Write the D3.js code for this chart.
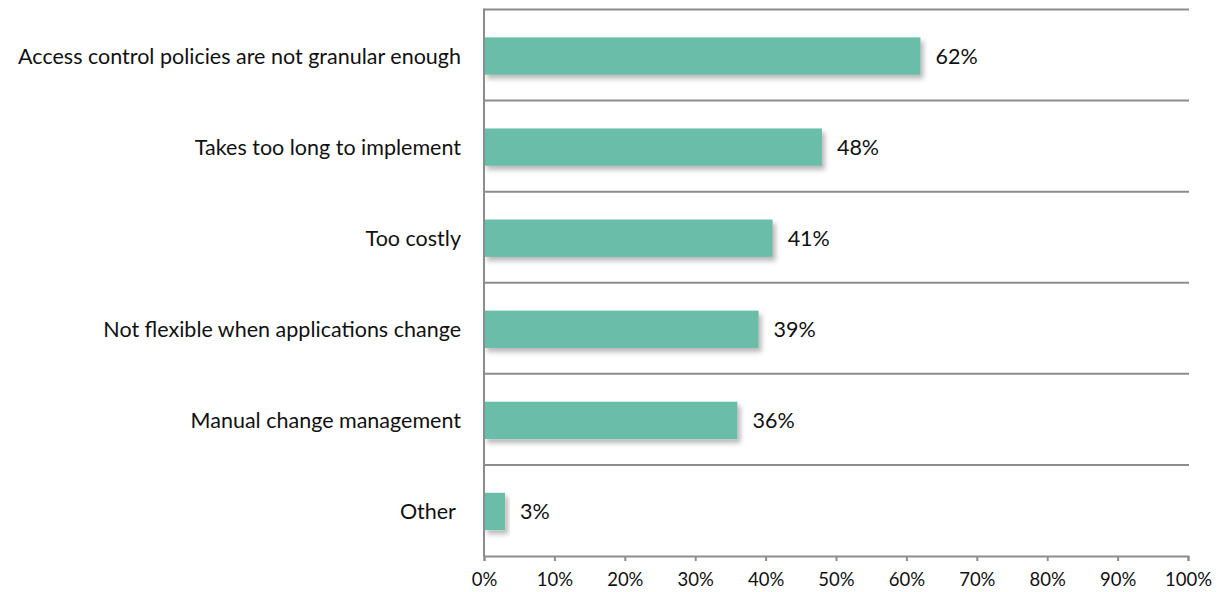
<!DOCTYPE html>
<html>
<head>
<meta charset="utf-8">
<script src="https://cdn.jsdelivr.net/npm/d3@7"></script>
<style>
  html, body { margin: 0; padding: 0; background: #fff; }
  svg text { font-family: Lato, "Open Sans", sans-serif; fill: #111; }
</style>
</head>
<body>
<svg id="chart" width="1230" height="592"></svg>
<script>
// Reasons given, and share of respondents selecting each
const categories = [
  "Access control policies are not granular enough",
  "Takes too long to implement",
  "Too costly",
  "Not flexible when applications change",
  "Manual change management",
  "Other\u00a0"
];
const values = [62, 48, 41, 39, 36, 3];
const tickValues = [0, 10, 20, 30, 40, 50, 60, 70, 80, 90, 100];

const svg = d3.select("#chart");
const plotLeft = 484, plotRight = 1188, plotTop = 9.5, plotBottom = 556;

const x = d3.scaleLinear().domain([0, 100]).range([plotLeft, plotRight]);
const y = d3.scaleBand().domain(categories).range([plotTop, plotBottom]).paddingInner(0).paddingOuter(0);
const barH = y.bandwidth() * 0.41;

// soft shadow under each bar
const defs = svg.append("defs");
const f = defs.append("filter").attr("id", "shadow")
  .attr("x", "-10%").attr("y", "-30%").attr("width", "130%").attr("height", "180%");
f.append("feDropShadow").attr("dx", 3).attr("dy", 4).attr("stdDeviation", 2.5)
  .attr("flood-color", "#000").attr("flood-opacity", 0.28);

// band separators
svg.append("g").selectAll("line")
  .data(categories)
  .join("line")
  .attr("x1", plotLeft).attr("x2", plotRight + 1)
  .attr("y1", d => y(d)).attr("y2", d => y(d))
  .attr("stroke", "#8c8c8c").attr("stroke-width", 2);

// bars
svg.append("g").selectAll("rect")
  .data(values)
  .join("rect")
  .attr("x", plotLeft)
  .attr("y", (d, i) => y(categories[i]) + y.bandwidth() / 2 - barH / 2 + 1)
  .attr("width", d => x(d) - x(0))
  .attr("height", barH)
  .attr("fill", "#6bbda9")
  .attr("filter", "url(#shadow)");

// value labels
svg.append("g").selectAll("text")
  .data(values)
  .join("text")
  .attr("x", d => x(d) + 15)
  .attr("y", (d, i) => y(categories[i]) + y.bandwidth() / 2 + 1)
  .attr("dy", "0.35em")
  .attr("font-size", 21.5)
  .text(d => d + "%");

// category labels
svg.append("g").selectAll("text")
  .data(categories)
  .join("text")
  .attr("x", plotLeft - 23)
  .attr("y", d => y(d) + y.bandwidth() / 2 + 1)
  .attr("dy", "0.35em")
  .attr("text-anchor", "end")
  .attr("font-size", 21.5)
  .style("white-space", "pre")
  .text(d => d);

// bottom axis
const xAxis = d3.axisBottom(x).tickValues(tickValues).tickSize(5).tickSizeOuter(5).tickPadding(12)
  .tickFormat(d => d + "%");
const gx = svg.append("g").attr("transform", `translate(0,${plotBottom})`).call(xAxis);
gx.select(".domain").attr("stroke", "#8c8c8c").attr("stroke-width", 2);
gx.selectAll(".tick line").attr("stroke", "#8c8c8c").attr("stroke-width", 2);
gx.selectAll(".tick text").attr("font-size", 18.5).attr("fill", "#111")
  .attr("font-family", "Lato, 'Open Sans', sans-serif");

// left axis line
svg.append("line")
  .attr("x1", plotLeft).attr("x2", plotLeft)
  .attr("y1", plotTop - 1).attr("y2", plotBottom + 1)
  .attr("stroke", "#8c8c8c").attr("stroke-width", 2);
</script>
</body>
</html>
